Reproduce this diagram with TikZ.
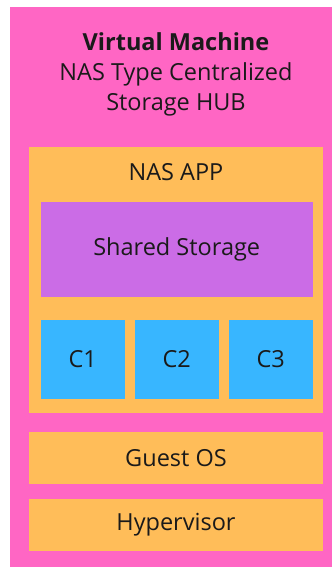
\documentclass[tikz,border=0pt]{standalone}
\usepackage{fontspec}
\setmainfont{Open Sans}
\definecolor{vmpink}{HTML}{FF66C4}
\definecolor{apporange}{HTML}{FFBD59}
\definecolor{storpurple}{HTML}{CB6CE6}
\definecolor{contblue}{HTML}{38B6FF}
\definecolor{txt}{HTML}{1A1A1A}
\begin{document}
\begin{tikzpicture}[x=1pt,y=-1pt,
  box/.style={inner sep=0pt,outer sep=0pt,text=txt,font=\fontsize{23.5}{28}\selectfont},
]
\useasboundingbox (0,0) rectangle (332,567);
\fill[white] (0,0) rectangle (332,567);
\fill[vmpink] (10,7) rectangle (332,567);
\node[box,align=center,font=\fontsize{23.5}{30}\selectfont] (title) at (176,74)
  {\textbf{Virtual Machine}\\NAS Type Centralized\\Storage HUB};
\fill[apporange] (29,147) rectangle (323,413);
\node[box] (app) at (176,172) {NAS APP};
\fill[storpurple] (40.5,201.5) rectangle (313,296.5);
\node[box] (stor) at (176.7,249) {Shared Storage};
\fill[contblue] (40.5,319.5) rectangle (125,399);
\fill[contblue] (135,319.5) rectangle (218.5,399);
\fill[contblue] (228.5,319.5) rectangle (313,399);
\node[box] (c1) at (82.7,359) {C1};
\node[box] (c2) at (176.7,359) {C2};
\node[box] (c3) at (270.7,359) {C3};
\fill[apporange] (29,432) rectangle (323,484);
\node[box] (guest) at (176,458) {Guest OS};
\fill[apporange] (29,499) rectangle (323,551);
\node[box] (hyp) at (176,525) {Hypervisor};
\end{tikzpicture}
\end{document}
